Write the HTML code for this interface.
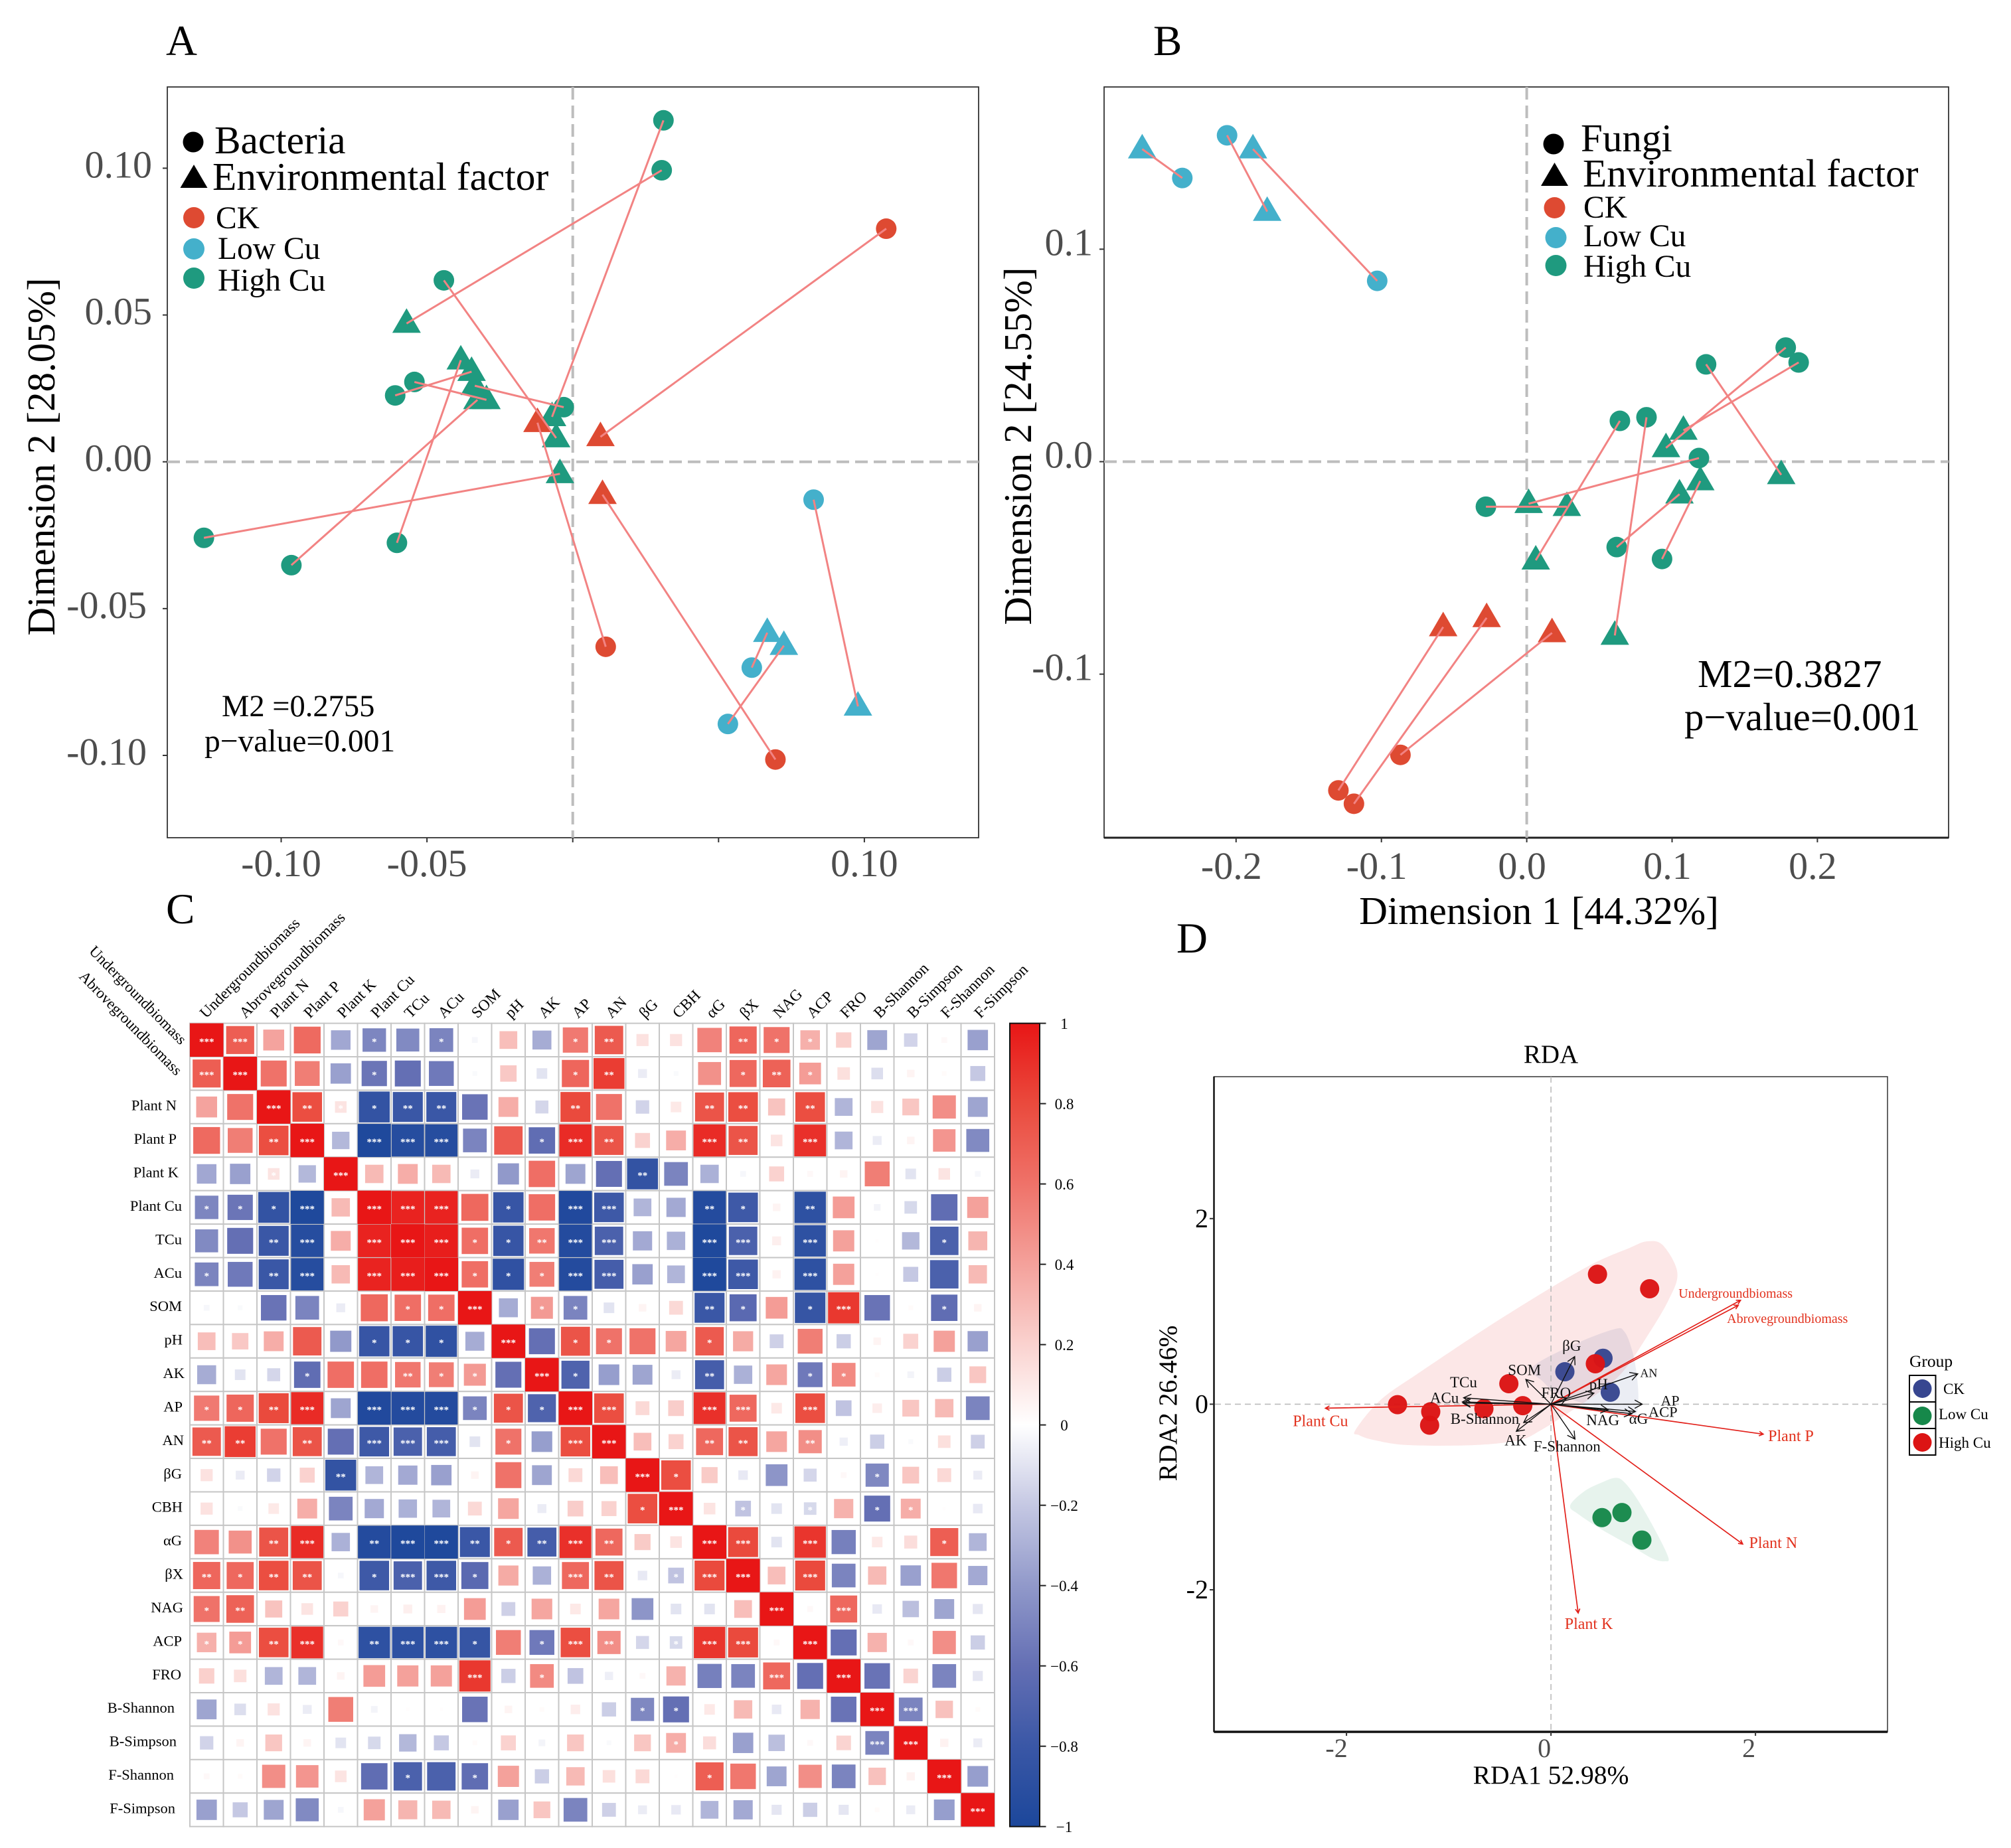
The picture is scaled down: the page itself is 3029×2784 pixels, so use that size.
<!DOCTYPE html>
<html lang="en">
<head>
<meta charset="utf-8">
<title>Procrustes, correlation and RDA figure</title>
<style>
html,body{margin:0;padding:0;background:#fff;}
svg{display:block;position:absolute;left:0;top:0;}
text{font-family:"Liberation Serif","DejaVu Serif",serif;}
</style>
</head>
<body>
<svg id="fig" xmlns="http://www.w3.org/2000/svg" width="3029" height="2784" viewBox="0 0 3029 2784">
<rect x="0" y="0" width="3029" height="2784" fill="#fff"/>

<!-- Panel letters -->
<text x="250" y="83" font-size="65" fill="#000">A</text>
<text x="1737" y="83" font-size="65" fill="#000">B</text>
<text x="250" y="1391" font-size="65" fill="#000">C</text>
<text x="1772" y="1435" font-size="65" fill="#000">D</text>

<!-- Panel A -->
<g id="panelA">
<rect x="252" y="131" width="1222" height="1131" fill="#fff" stroke="#333" stroke-width="1.8"/>
<text transform="translate(82,688) rotate(-90)" text-anchor="middle" font-size="59" fill="#000">Dimension 2 [28.05%]</text>
</g>
<g id="panelAMarks"></g>
<g id="panelALegend">
<circle cx="291" cy="214" r="15.5" fill="#000"/>
<text x="323" y="231" font-size="59.3">Bacteria</text>
<polygon points="292,248 271.5,283 312.5,283" fill="#000"/>
<text x="320" y="286" font-size="59.4">Environmental factor</text>
<circle cx="292" cy="328" r="16" fill="#de4a32"/>
<text x="325" y="344" font-size="47.5">CK</text>
<circle cx="292" cy="375" r="16" fill="#44b0cb"/>
<text x="328" y="390" font-size="47.5">Low Cu</text>
<circle cx="292" cy="419" r="16" fill="#1f9a7f"/>
<text x="328" y="438" font-size="47.5">High Cu</text>
<text x="334" y="1079" font-size="46.5">M2 =0.2755</text>
<text x="308" y="1132" font-size="47.5">p−value=0.001</text>
</g>

<!-- Panel B -->
<g id="panelB">
<rect x="1663" y="131" width="1272" height="1131" fill="#fff" stroke="#333" stroke-width="1.8"/>
<line x1="1663" y1="1262" x2="2935" y2="1262" stroke="#222" stroke-width="3"/>
<text transform="translate(1553,672) rotate(-90)" text-anchor="middle" font-size="59" fill="#000">Dimension 2 [24.55%]</text>
<text x="2318" y="1392" text-anchor="middle" font-size="59.3" fill="#000">Dimension 1 [44.32%]</text>
</g>
<g id="panelBMarks"></g>
<g id="panelBLegend">
<circle cx="2340" cy="217" r="15.5" fill="#000"/>
<text x="2381" y="228" font-size="59">Fungi</text>
<polygon points="2341.5,245 2321,280 2362,280" fill="#000"/>
<text x="2384" y="281" font-size="59.3">Environmental factor</text>
<circle cx="2341.5" cy="313" r="16" fill="#de4a32"/>
<text x="2385" y="328" font-size="47.5">CK</text>
<circle cx="2343.5" cy="358" r="16" fill="#44b0cb"/>
<text x="2385" y="371" font-size="47.5">Low Cu</text>
<circle cx="2343.5" cy="400" r="16" fill="#1f9a7f"/>
<text x="2385" y="417" font-size="47.5">High Cu</text>
<text x="2557" y="1035" font-size="59">M2=0.3827</text>
<text x="2537" y="1100" font-size="58.8">p−value=0.001</text>
</g>

<!-- Panel C -->
<g id="panelC"></g>

<!-- Panel D -->
<g id="panelD">
<text x="2336" y="1601" text-anchor="middle" font-size="39" fill="#000">RDA</text>
<rect x="1828.5" y="1622" width="1014.5" height="987" fill="#fff" stroke="#333" stroke-width="1.5"/>
<line x1="1828.5" y1="2609" x2="2843" y2="2609" stroke="#111" stroke-width="3.5"/>
<line x1="1828.5" y1="1622" x2="1828.5" y2="2609" stroke="#111" stroke-width="2.5"/>
<text x="2336" y="2687" text-anchor="middle" font-size="39.5" fill="#000">RDA1 52.98%</text>
<text transform="translate(1772,2114) rotate(-90)" text-anchor="middle" font-size="39.5" fill="#000">RDA2 26.46%</text>
</g>
<g id="panelDMarks"></g>
<g id="panelDLegend">
<text x="2876" y="2059" font-size="25.5">Group</text>
<rect x="2876" y="2072" width="39.5" height="40" fill="#fff" stroke="#000" stroke-width="2"/>
<rect x="2876" y="2112" width="39.5" height="40" fill="#fff" stroke="#000" stroke-width="2"/>
<rect x="2876" y="2152" width="39.5" height="40" fill="#fff" stroke="#000" stroke-width="2"/>
<circle cx="2895.5" cy="2092" r="14" fill="#374690"/>
<circle cx="2895.5" cy="2133" r="14" fill="#16884a"/>
<circle cx="2895.5" cy="2173" r="14" fill="#dc1414"/>
<text x="2927" y="2100" font-size="23">CK</text>
<text x="2920" y="2138" font-size="23">Low Cu</text>
<text x="2920" y="2181" font-size="23">High Cu</text>
</g>
</svg>

<script>
/* ===== Panel A data (data units) ===== */
const aGroups = ['high','high','high','high','high','high','high','high','high','ck','ck','ck','low','low','low'];
const aCircleX = [0.0311,0.0305,-0.0442,-0.0543,-0.0609,-0.0031,-0.1265,-0.0965,-0.0603,0.1075,0.0113,0.0695,0.0826,0.0614,0.0532];
const aCircleY = [0.1163,0.0993,0.0618,0.0272,0.0226,0.0186,-0.0259,-0.0352,-0.0276,0.0794,-0.0630,-0.1014,-0.0129,-0.0701,-0.0893];
const aTriX = [-0.0071,-0.0570,-0.0057,-0.0296,-0.0347,-0.0336,-0.0044,-0.0327,-0.0384,0.0095,-0.0121,0.0102,0.0978,0.0667,0.0724];
const aTriY = [0.0153,0.0471,0.0081,0.0211,0.0307,0.0259,-0.0041,0.0211,0.0346,0.0085,0.0133,-0.0112,-0.0833,-0.0582,-0.0626];
const aXTicks = [-0.10,-0.05,0,0.05,0.10];
const aXTickLabels = ['-0.10','-0.05','','','0.10'];
const aYTicks = [0.10,0.05,0,-0.05,-0.10];
const aYTickLabels = ['0.10','0.05','0.00','-0.05','-0.10'];

/* ===== Panel B data (data units) ===== */
const bGroups = ['low','low','low','ck','ck','ck','high','high','high','high','high','high','high','high','high'];
const bCircleX = [-0.2370,-0.2062,-0.1029,-0.1296,-0.1189,-0.0869,0.1782,0.1871,0.1234,0.0641,0.0824,0.1185,-0.0281,0.0619,0.0931];
const bCircleY = [0.1335,0.1536,0.0851,-0.1547,-0.1610,-0.1380,0.0537,0.0467,0.0458,0.0192,0.0209,0.0017,-0.0212,-0.0402,-0.0458];
const bTriX = [-0.2646,-0.1786,-0.1884,-0.0575,-0.0276,0.0174,0.0958,0.1078,0.1751,0.0062,0.0606,0.0013,0.0276,0.1051,0.1194];
const bTriY = [0.1471,0.1177,0.1471,-0.0778,-0.0735,-0.0806,0.0065,0.0147,-0.0062,-0.0464,-0.0818,-0.0198,-0.0212,-0.0153,-0.0091];
const bXTicks = [-0.2,-0.1,0,0.1,0.2];
const bXTickLabels = ['-0.2','-0.1','0.0','0.1','0.2'];
const bYTicks = [0.1,0,-0.1];
const bYTickLabels = ['0.1','0.0','-0.1'];

/* ===== Panel C data ===== */
const corrLabels = ['Undergroundbiomass','Abrovegroundbiomass','Plant N','Plant P','Plant K','Plant Cu','TCu','ACu','SOM','pH','AK','AP','AN','βG','CBH','αG','βX','NAG','ACP','FRO','B-Shannon','B-Simpson','F-Shannon','F-Simpson'];
/* upper triangle: each row lists the columns to the right of the diagonal */
const corrUpper = [
[.70,.39,.64,-.34,-.49,-.47,-.50,-.03,.28,-.32,.57,.72,.13,.13,.53,.66,.60,.34,.21,-.35,-.16,.03,-.37],
[.60,.55,-.37,-.57,-.60,-.55,-.02,.24,-.10,.66,.85,-.07,-.02,.47,.65,.68,.42,.14,-.12,.05,.02,-.20],
[.78,.12,-.85,-.80,-.80,-.58,.35,-.15,.80,.60,-.16,.10,.75,.78,.26,.78,-.28,.13,.25,.48,-.35],
[-.27,-.98,-.93,-.93,-.50,.72,-.62,.92,.75,.20,.35,.92,.75,.12,.90,-.28,-.07,.05,.45,-.47],
[.30,.35,.30,-.07,-.40,.62,-.35,-.60,-.85,-.50,-.30,-.03,.20,.03,.05,.55,-.10,.12,-.03],
[.95,.95,.65,-.82,.62,-.97,-.78,-.28,-.33,-.95,-.78,.05,-.88,.42,-.04,-.14,-.62,.40],
[.97,.62,-.82,.58,-.95,-.72,-.33,-.30,-.98,-.72,.07,-.88,.40,.01,-.27,-.72,.32],
[.62,-.87,.55,-.95,-.75,-.37,-.28,-.98,-.78,.06,-.88,.40,.01,-.20,-.72,.30],
[-.32,.43,-.50,-.10,.05,.17,-.80,-.65,.42,-.83,.87,-.58,.02,-.62,.05],
[-.60,.75,.60,.60,.38,.72,.36,-.17,.55,-.18,.05,.20,.40,-.37],
[-.70,-.38,-.35,-.07,-.75,-.30,.38,-.55,.50,.02,-.04,-.18,.25],
[.78,.17,.22,.90,.65,.10,.78,-.22,.08,.25,.30,-.50],
[.28,.20,.65,.75,.38,.48,-.06,-.18,-.02,.14,-.17],
[.78,.23,-.08,-.42,-.15,.03,-.48,.25,.17,-.07],
[.12,-.22,-.10,-.14,.33,-.60,.35,.01,-.08],
[.80,-.10,.88,-.52,.10,.15,.70,-.28],
[.28,.80,-.50,.30,-.37,.58,-.33],
[.03,.65,-.08,-.24,-.35,-.09],
[-.60,.33,.03,.48,-.18],
[-.58,.19,-.50,-.09],
[-.50,.27,.02],
[.06,-.07],
[-.38]
];
const corrStars = [
[3,0,0,0,1,0,1,0,0,0,1,2,0,0,0,2,1,1,0,0,0,0,0],
[0,0,0,1,0,0,0,0,0,1,2,0,0,0,1,2,1,0,0,0,0,0],
[2,1,1,2,2,0,0,0,2,0,0,0,2,2,0,2,0,0,0,0,0],
[0,3,3,3,0,0,1,3,2,0,0,3,2,0,3,0,0,0,0,0],
[0,0,0,0,0,0,0,0,2,0,0,0,0,0,0,0,0,0,0],
[3,3,0,1,0,3,3,0,0,2,1,0,2,0,0,0,0,0],
[3,1,1,2,3,3,0,0,3,3,0,3,0,0,0,1,0],
[1,1,1,3,3,0,0,3,3,0,3,0,0,0,0,0],
[0,1,1,0,0,0,2,1,0,1,3,0,0,1,0],
[0,1,1,0,0,1,0,0,0,0,0,0,0,0],
[1,0,0,0,2,0,0,1,1,0,0,0,0],
[3,0,0,3,3,0,3,0,0,0,0,0],
[0,0,2,2,0,2,0,0,0,0,0],
[1,0,0,0,0,0,1,0,0,0],
[0,1,0,1,0,1,1,0,0],
[3,0,3,0,0,0,1,0],
[0,3,0,0,0,0,0],
[0,3,0,0,0,0],
[0,0,0,0,0],
[0,0,0,0],
[3,0,0],
[0,0],
[0]
];
const colorbarTicks = [1,0.8,0.6,0.4,0.2,0,-0.2,-0.4,-0.6,-0.8,-1];
const colorbarTickLabels = ['1','0.8','0.6','0.4','0.2','0','−0.2','−0.4','−0.6','−0.8','−1'];

/* ===== Panel D data (data units) ===== */
const rdaHighX = [0.455,0.965,0.434,-0.412,-0.276,-0.656,-1.501,-1.176,-1.187];
const rdaHighY = [1.40,1.244,0.436,0.221,-0.016,-0.048,-0.005,-0.081,-0.226];
const rdaCkX = [0.509,0.136,0.580];
const rdaCkY = [0.495,0.350,0.129];
const rdaLowX = [0.499,0.694,0.889];
const rdaLowY = [-1.222,-1.168,-1.464];
const rdaHullHighX = [-1.913,-1.669,-1.29,-0.477,0.336,0.77,0.943,1.095,1.236,1.149,0.932,0.715,0.499,0.173,-0.098,-0.314,-0.748,-1.398,-1.724,-1.875];
const rdaHullHighY = [-0.28,0.043,0.339,0.931,1.47,1.685,1.755,1.712,1.416,1.12,0.716,0.366,0.151,-0.092,-0.28,-0.388,-0.441,-0.441,-0.388,-0.334];
const rdaHullCkX = [-0.18,0.212,0.617,0.719,0.791,0.835,0.855,0.835,0.733,0.357,0.067,-0.078];
const rdaHullCkY = [0.398,0.637,0.808,0.78,0.589,0.35,0.088,-0.103,-0.126,-0.007,0.112,0.243];
const rdaHullLowX = [0.188,0.328,0.501,0.632,0.719,0.849,1.023,1.148,1.11,0.994,0.791,0.501,0.27];
const rdaHullLowY = [-1.092,-0.937,-0.842,-0.794,-0.842,-1.032,-1.366,-1.652,-1.693,-1.664,-1.533,-1.354,-1.187];
const rdaRedNames = ['Plant Cu','Plant P','Plant N','Plant K','Undergroundbiomass','Abrovegroundbiomass'];
const rdaRedX = [-2.206,2.076,1.875,0.266,1.854,1.832];
const rdaRedY = [-0.043,-0.323,-1.507,-2.25,1.12,1.066];
const rdaBlackNames = ['βG','SOM','TCu','ACu','B-Shannon','AK','F-Shannon','FRO','pH','AN','AP','ACP','αG','NAG','B-Simpson'];
const rdaBlackX = [0.232,-0.246,-0.855,-0.867,-0.861,-0.339,0.235,0.154,0.42,0.849,0.893,0.826,0.791,0.559,-0.267];
const rdaBlackY = [0.513,0.267,0.069,0.024,0.012,-0.293,-0.377,0.064,0.119,0.327,0,-0.079,-0.103,-0.06,-0.198];
const rdaXTicks = [-2,0,2];
const rdaYTicks = [2,0,-2];
const rdaXTickLabels = ['-2','0','2'];
const rdaYTickLabels = ['2','0','-2'];

/* ===== Styling / layout (not data) ===== */
const NS = 'http://www.w3.org/2000/svg';
const groupColor = {ck:'#de4a32', low:'#44b0cb', high:'#1f9a7f'};
const cmapStops = [[-1,'#1c479b'],[-0.8,'#3a57a6'],[-0.6,'#646fb4'],[-0.4,'#9199ca'],[-0.2,'#c5c8e3'],[0,'#ffffff'],[0.2,'#fad2cf'],[0.4,'#f4a19b'],[0.6,'#ef7269'],[0.8,'#ea4a3d'],[1,'#e81616']];
const redLabelStyle = [[-7.5,19.6,24],[41.7,3,24],[46,-2,24],[16,16.5,24],[-7.5,-10,20],[74,20,20]];
const blackLabelStyle = [[-4.5,-16,23],[-2,-14,23],[0,-23,23],[-27,-6,23],[33,24,23],[-1,14,23],[-12,11,23],[-16,-8,23],[7,-13,23],[16.5,-1,18],[42,-5,22],[41.5,1,22.5],[10,8,23],[-8,16,23],null];
const rowLabelRight = [0,0,266,266,269,274,274,274,274,275,278,275,277,274,275,274,276,276,274,273,263,266,262,264];

function mk(tag, attrs, parent, txt){
  const e = document.createElementNS(NS, tag);
  for (const k in attrs) e.setAttribute(k, attrs[k]);
  if (txt !== undefined) e.textContent = txt;
  parent.appendChild(e);
  return e;
}
function hexToRgb(h){return [parseInt(h.slice(1,3),16),parseInt(h.slice(3,5),16),parseInt(h.slice(5,7),16)];}
function corrColor(r){
  r = Math.max(-1, Math.min(1, r));
  for (let i = 0; i < cmapStops.length - 1; i++){
    const a = cmapStops[i], b = cmapStops[i+1];
    if (r <= b[0]){
      const t = (r - a[0]) / (b[0] - a[0]);
      const ca = hexToRgb(a[1]), cb = hexToRgb(b[1]);
      return 'rgb(' + ca.map((v,j) => Math.round(v + (cb[j]-v)*t)).join(',') + ')';
    }
  }
  return cmapStops[cmapStops.length-1][1];
}

/* ===== Panels A & B shared drawing ===== */
function drawProcrustes(g, cfg){
  const xS = cfg.xS, yS = cfg.yS;
  let el;
  el = mk('line',{x1:xS(0),y1:cfg.top,x2:xS(0),y2:cfg.bottom,stroke:'#bdbdbd','stroke-width':4,'stroke-dasharray':'19 9'},g);
  
  
  el = mk('line',{x1:cfg.left,y1:yS(0),x2:cfg.right,y2:yS(0),stroke:'#bdbdbd','stroke-width':4,'stroke-dasharray':'19 9'},g);
  
  

  cfg.xTicks.forEach((t,i) => {
    const tk = mk('line',{x1:xS(t),y1:cfg.bottom,x2:xS(t),y2:cfg.bottom+7,stroke:'#333','stroke-width':2},g);
    
    
    if (cfg.xLabels[i]){
      const lb = mk('text',{x:xS(t)+cfg.xLabelDx,y:cfg.xLabelY,'text-anchor':'middle','font-size':58,fill:'#4d4d4d'},g,cfg.xLabels[i]);
      
      
    }
  });
  cfg.yTicks.forEach((t,i) => {
    const tk = mk('line',{x1:cfg.left-7,y1:yS(t),x2:cfg.left,y2:yS(t),stroke:'#333','stroke-width':2},g);
    
    
    const lb = mk('text',{x:cfg.yLabelX(t),y:yS(t)+cfg.yLabelDy,'text-anchor':'end','font-size':58,fill:'#4d4d4d'},g,cfg.yLabels[i]);
    
    
  });

  cfg.triX.forEach((v,i) => {
    const x = xS(v), y = yS(cfg.triY[i]);
    const tri = mk('polygon',{points:(x)+','+(y-23)+' '+(x-21.5)+','+(y+14)+' '+(x+21.5)+','+(y+14),fill:groupColor[cfg.groups[i]]},g);
    
    
  });
  cfg.cx.forEach((v,i) => {
    const c = mk('ellipse',{cx:xS(v),cy:yS(cfg.cy[i]),rx:15.5,ry:15.5,fill:groupColor[cfg.groups[i]]},g);
    
    
  });
  cfg.cx.forEach((v,i) => {
    const l = mk('line',{x1:xS(v),y1:yS(cfg.cy[i]),x2:xS(cfg.triX[i]),y2:yS(cfg.triY[i]),stroke:'#f28383','stroke-width':3},g);
    
    
  });
}

drawProcrustes(document.getElementById('panelAMarks'),{
  xS:d=>862.7+d*4392, yS:d=>695.7-d*4423, left:252, right:1474, top:131, bottom:1262,
  xTicks:aXTicks, xLabels:aXTickLabels, yTicks:aYTicks, yLabels:aYTickLabels,
  xLabelY:1320, xLabelDx:0, yLabelX:t=>t<0?221:229, yLabelDy:14,
  cx:aCircleX, cy:aCircleY, triX:aTriX, triY:aTriY, groups:aGroups
});
drawProcrustes(document.getElementById('panelBMarks'),{
  xS:d=>2299.6+d*2189, yS:d=>695.5-d*3201, left:1663, right:2935, top:131, bottom:1262,
  xTicks:bXTicks, xLabels:bXTickLabels, yTicks:bYTicks, yLabels:bYTickLabels,
  xLabelY:1324, xLabelDx:-7, yLabelX:t=>1646, yLabelDy:9,
  cx:bCircleX, cy:bCircleY, triX:bTriX, triY:bTriY, groups:bGroups
});

/* ===== Panel C ===== */
(function(){
  const g = document.getElementById('panelC');
  const L = 286, T = 1541.6, CW = 50.5, CH = 50.42, N = corrLabels.length;
  function cellValue(i,j){
    if (i === j) return 1;
    const a = Math.min(i,j), b = Math.max(i,j);
    return corrUpper[a][b-a-1];
  }
  function cellStars(i,j){
    if (i === j) return 3;
    const a = Math.min(i,j), b = Math.max(i,j);
    return corrStars[a][b-a-1];
  }
  for (let i = 0; i < N; i++){
    for (let j = 0; j < N; j++){
      const bx = mk('rect',{x:L+j*CW,y:T+i*CH,width:CW,height:CH,fill:'#fff',stroke:'#c6c6c6','stroke-width':2},g);
      
      
    }
  }
  for (let i = 0; i < N; i++){
    for (let j = 0; j < N; j++){
      const r = cellValue(i,j), s = Math.sqrt(Math.abs(r));
      const w = CW*s, h = CH*s;
      const cx = L+(j+.5)*CW, cy = T+(i+.5)*CH;
      const sq = mk('rect',{x:cx-w/2,y:cy-h/2,width:w,height:h,fill:corrColor(r)},g);
      
      
      const st = cellStars(i,j);
      if (st > 0){
        const t = mk('text',{x:cx,y:cy+7,'text-anchor':'middle','font-size':15,'font-weight':'bold',fill:'#fff'},g,'*'.repeat(st));
        
        
      }
    }
  }
  corrLabels.forEach((name,j) => {
    const cx = L+(j+.5)*CW;
    const dx = j === 0 ? -1 : (j === 1 ? 8 : 4);
    const t = mk('text',{transform:'translate('+(cx+dx)+',1535) rotate(-45)','font-size':23.5,fill:'#000'},g,name);
    
    
  });
  corrLabels.forEach((name,i) => {
    const cy = T+(i+.5)*CH;
    if (i < 2) return;
    const t = mk('text',{x:rowLabelRight[i],y:cy+5,'text-anchor':'end','font-size':22.5,fill:'#000'},g,name);
    
    
  });
  let tl;
  tl = mk('text',{transform:'translate(133,1434) rotate(45.5)','font-size':23,fill:'#000'},g,corrLabels[0]);
  
  
  tl = mk('text',{transform:'translate(118,1472) rotate(45.5)','font-size':23,fill:'#000'},g,corrLabels[1]);
  
  

  /* colorbar */
  const defs = mk('defs',{},g);
  const grad = mk('linearGradient',{id:'cbarGrad',x1:0,y1:1,x2:0,y2:0},defs);
  cmapStops.forEach(s => {
    mk('stop',{offset:((s[0]+1)/2*100)+'%','stop-color':s[1]},grad);
  });
  const CBX = 1521, CBW = 45, cbY = v => 1541.6 + (1-v)/2*1210.1;
  const bar = mk('rect',{x:CBX,y:cbY(1),width:CBW,height:cbY(-1)-cbY(1),fill:'url(#cbarGrad)',stroke:'#111','stroke-width':2},g);
  
  
  colorbarTicks.forEach((v,i) => {
    const tk = mk('line',{x1:CBX+CBW,y1:cbY(v),x2:CBX+CBW+9.5,y2:cbY(v),stroke:'#222','stroke-width':2},g);
    
    
    const lb = mk('text',{x:1603,y:cbY(v)+8.5,'text-anchor':'middle','font-size':23,fill:'#000'},g,colorbarTickLabels[i]);
    
    
  });
})();

/* ===== Panel D ===== */
(function(){
  const g = document.getElementById('panelDMarks');
  const xS = d => 2336.1 + d*154, yS = d => 2115.4 - d*139.8;
  function smoothClosed(xs, ys){
    const P = xs.map((v,i) => [xS(v), yS(ys[i])]), n = P.length;
    let d = 'M' + P[0][0] + ',' + P[0][1];
    for (let i = 0; i < n; i++){
      const p0 = P[(i-1+n)%n], p1 = P[i], p2 = P[(i+1)%n], p3 = P[(i+2)%n];
      d += 'C' + (p1[0]+(p2[0]-p0[0])/6) + ',' + (p1[1]+(p2[1]-p0[1])/6) + ' ' + (p2[0]-(p3[0]-p1[0])/6) + ',' + (p2[1]-(p3[1]-p1[1])/6) + ' ' + p2[0] + ',' + p2[1];
    }
    return d + 'Z';
  }
  let h;
  h = mk('path',{d:smoothClosed(rdaHullHighX,rdaHullHighY),fill:'#e01414','fill-opacity':.1},g);
  
  
  h = mk('path',{d:smoothClosed(rdaHullCkX,rdaHullCkY),fill:'#3a4a90','fill-opacity':.1},g);
  
  
  h = mk('path',{d:smoothClosed(rdaHullLowX,rdaHullLowY),fill:'#16884a','fill-opacity':.1},g);
  
  

  let z;
  z = mk('line',{x1:xS(0),y1:1622,x2:xS(0),y2:2608,stroke:'#bbb','stroke-width':1.6,'stroke-dasharray':'9 6'},g);
  
  
  z = mk('line',{x1:1830,y1:yS(0),x2:2842,y2:yS(0),stroke:'#bbb','stroke-width':1.6,'stroke-dasharray':'9 6'},g);
  
  

  rdaXTicks.forEach((t,i) => {
    const tk = mk('line',{x1:xS(t),y1:2609,x2:xS(t),y2:2615,stroke:'#333','stroke-width':2},g);
    
    
    const lb = mk('text',{x:xS(t)-(t<0?15:10),y:2647,'text-anchor':'middle','font-size':40,fill:'#4d4d4d'},g,rdaXTickLabels[i]);
    
    
  });
  rdaYTicks.forEach((t,i) => {
    const tk = mk('line',{x1:1822,y1:yS(t),x2:1828,y2:yS(t),stroke:'#333','stroke-width':2},g);
    
    
    const lb = mk('text',{x:1820,y:yS(t)+13,'text-anchor':'end','font-size':40,fill:'#000'},g,rdaYTickLabels[i]);
    
    
  });

  function pts(xs, ys, color, name){
    xs.forEach((v,i) => {
      const c = mk('circle',{cx:xS(v),cy:yS(ys[i]),r:14.5,fill:color,'fill-opacity':.97},g);
      
      
    });
  }
  pts(rdaCkX, rdaCkY, '#374690', 'rda-point-ck');
  pts(rdaLowX, rdaLowY, '#16884a', 'rda-point-low-cu');
  pts(rdaHighX, rdaHighY, '#dc1414', 'rda-point-high-cu');

  function arrow(tx, ty, color, headLen, width, name){
    const x0 = xS(0), y0 = yS(0), x1 = xS(tx), y1 = yS(ty);
    const a = Math.atan2(y1-y0, x1-x0), s = 0.5;
    const d = 'M'+x0+','+y0+'L'+x1+','+y1+
      'M'+(x1-headLen*Math.cos(a-s))+','+(y1-headLen*Math.sin(a-s))+'L'+x1+','+y1+'L'+(x1-headLen*Math.cos(a+s))+','+(y1-headLen*Math.sin(a+s));
    const p = mk('path',{d:d,fill:'none',stroke:color,'stroke-width':width},g);
    
    
  }
  rdaRedNames.forEach((n,i) => {
    arrow(rdaRedX[i], rdaRedY[i], '#e2201a', 7, 1.7, 'rda-arrow-red');
    const st = redLabelStyle[i];
    const t = mk('text',{x:xS(rdaRedX[i])+st[0],y:yS(rdaRedY[i])+st[1]+st[2]*.32,'text-anchor':'middle','font-size':st[2],fill:'#e2321e'},g,n);
    
    
  });
  rdaBlackNames.forEach((n,i) => {
    arrow(rdaBlackX[i], rdaBlackY[i], '#111', 13, 1.4, 'rda-arrow-black');
    const st = blackLabelStyle[i];
    if (st){
      const t = mk('text',{x:xS(rdaBlackX[i])+st[0],y:yS(rdaBlackY[i])+st[1]+st[2]*.32,'text-anchor':'middle','font-size':st[2],fill:'#111'},g,n);
      
      
    }
  });
})();
</script>
</body>
</html>
